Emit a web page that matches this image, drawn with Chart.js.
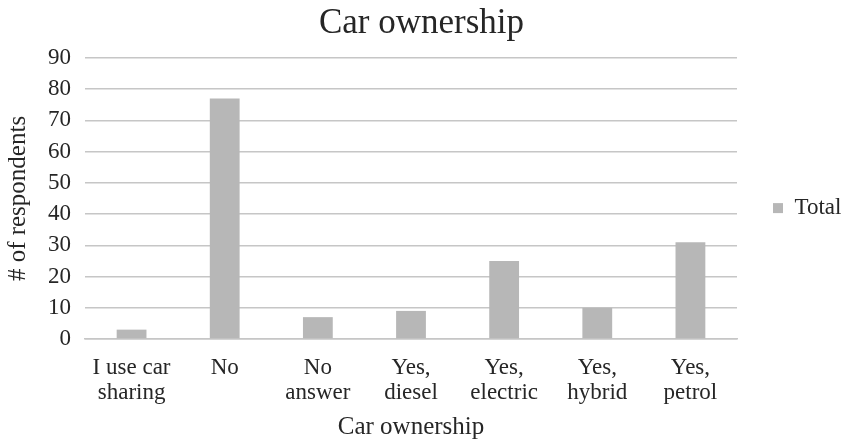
<!DOCTYPE html>
<html>
<head>
<meta charset="utf-8">
<script src="https://cdn.jsdelivr.net/npm/chart.js@4/dist/chart.umd.min.js"></script>
<style>
  html, body { margin: 0; padding: 0; background: #fff; }
  #wrap { width: 843px; height: 442px; }
</style>
</head>
<body>
<div id="wrap"><canvas id="chart" width="843" height="442"></canvas></div>
<script>
// Car ownership survey
const categories = [
    ['I use car', 'sharing'],
    ['No'],
    ['No', 'answer'],
    ['Yes,', 'diesel'],
    ['Yes,', 'electric'],
    ['Yes,', 'hybrid'],
    ['Yes,', 'petrol']
];
const totals = [3, 77, 7, 9, 25, 10, 31];
const yTicks = [0, 10, 20, 30, 40, 50, 60, 70, 80, 90];

const FONT = "'Liberation Serif', serif";
const TEXT = '#262626';
const GRID = '#c6c6c6';
const BAR = '#b7b7b7';

const ctx = document.getElementById('chart').getContext('2d');
new Chart(ctx, {
    type: 'bar',
    data: {
        labels: categories,
        datasets: [{
            label: 'Total',
            data: totals,
            backgroundColor: BAR,
            borderWidth: 0,
            barPercentage: 0.64,
            categoryPercentage: 0.5
        }]
    },
    options: {
        responsive: false,
        animation: false,
        layout: { padding: 0 },
        plugins: {
            title: {
                display: true,
                text: 'Car ownership',
                color: TEXT,
                font: { family: FONT, size: 35, weight: 'normal', lineHeight: 1.2 },
                padding: { top: 3, bottom: 13 }
            },
            legend: {
                position: 'right',
                fullSize: false,
                maxWidth: 106,
                // blank title only nudges the entry a little lower, like the original
                title: { display: true, text: ' ', padding: 0, font: { size: 16, lineHeight: 1.2 } },
                labels: {
                    color: TEXT,
                    font: { family: FONT, size: 23 },
                    boxWidth: 10,
                    boxHeight: 10,
                    padding: 36
                }
            },
            tooltip: { enabled: false }
        },
        scales: {
            x: {
                afterFit: axis => { axis.height = 103; },
                grid: { display: false, drawTicks: false },
                border: { display: true, color: GRID, width: 1.5 },
                ticks: {
                    color: TEXT,
                    font: { family: FONT, size: 23, lineHeight: 1.087 },
                    padding: 16.5,
                    maxRotation: 0,
                    autoSkip: false
                },
                title: {
                    display: true,
                    text: 'Car ownership',
                    color: TEXT,
                    font: { family: FONT, size: 25, lineHeight: 1.2 },
                    padding: { top: 0, bottom: 0 }
                }
            },
            y: {
                min: 0,
                max: 90,
                afterFit: axis => { axis.width = 85; },
                afterBuildTicks: axis => { axis.ticks = yTicks.map(v => ({ value: v })); },
                grid: { color: GRID, lineWidth: 1.5, drawTicks: false },
                border: { display: false },
                ticks: {
                    color: TEXT,
                    font: { family: FONT, size: 23 },
                    padding: 14
                },
                title: {
                    display: true,
                    text: '# of respondents',
                    color: TEXT,
                    font: { family: FONT, size: 25, lineHeight: 1.2 },
                    padding: { top: 3, bottom: 0 }
                }
            }
        }
    }
});
</script>
</body>
</html>
